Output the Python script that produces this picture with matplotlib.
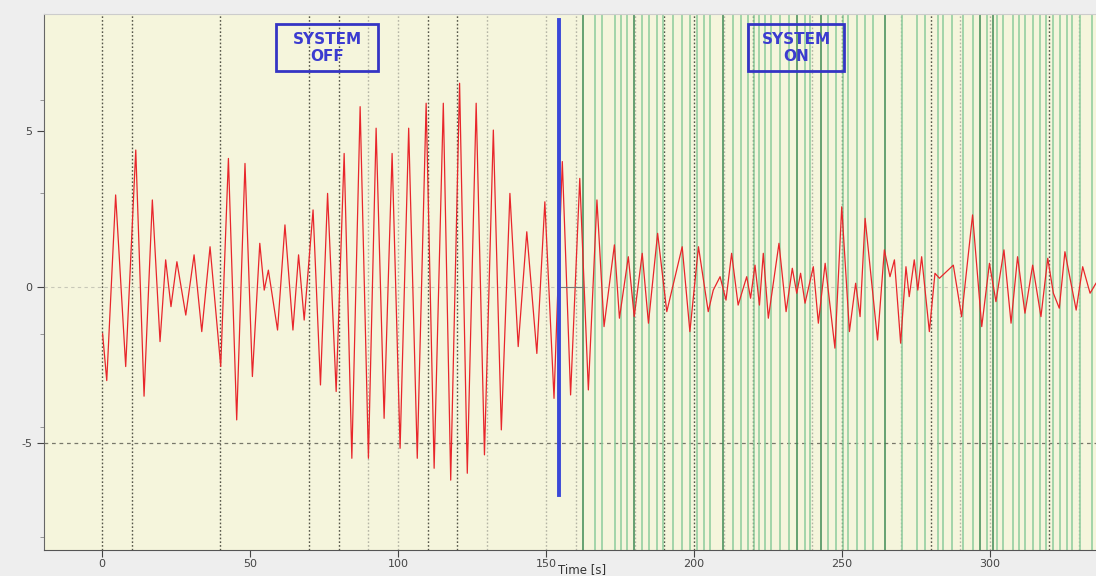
import matplotlib.pyplot as plt
import numpy as np

plt.rcParams['axes.unicode_minus'] = False

# signal extrema (time [s], amplitude)
sig_t = [0.2, 1.6, 4.6, 8.0, 11.4, 14.2, 17.0, 19.6, 21.5, 23.3, 25.3, 28.3, 31.1, 33.7,
         36.5, 40.1, 42.7, 45.5, 48.3, 50.8, 53.3, 54.8, 56.2, 59.3, 61.8, 64.5, 66.4,
         68.3, 71.3, 73.8, 76.2, 79.1, 81.8, 84.4, 87.2, 90.0, 92.6, 95.3, 98.0, 100.7,
         103.6, 106.5, 109.5, 112.2, 115.3, 117.8, 120.8, 123.4, 126.4, 129.2, 132.2,
         134.9, 137.8, 140.6, 143.5, 146.9, 149.6, 152.7, 155.5, 158.3, 161.4, 164.3,
         167.2, 169.6, 173.1, 174.8, 177.8, 179.8, 182.5, 184.6, 187.7, 190.8, 196.0,
         198.6, 201.5, 204.8, 206.5, 208.8, 210.8, 212.7, 214.9, 217.8, 219.1, 220.6,
         222.1, 223.4, 225.1, 228.7, 231.1, 233.2, 234.7, 236.0, 237.5, 240.3, 242.0,
         244.3, 247.6, 249.9, 252.5, 254.6, 256.1, 257.8, 262.0, 264.3, 266.2, 267.7,
         269.8, 271.6, 272.7, 274.4, 275.6, 276.9, 279.5, 281.4, 282.9, 287.6, 290.4,
         294.1, 297.2, 299.8, 302.0, 304.7, 307.1, 309.3, 311.8, 314.4, 317.2, 319.5,
         321.4, 323.4, 325.3, 329.1, 331.3, 333.8, 335.8]
sig_v = [-1.5, -3.0, 2.95, -2.55, 4.39, -3.5, 2.79, -1.75, 0.87, -0.63, 0.81, -0.9, 1.03, -1.43,
         1.29, -2.55, 4.12, -4.26, 3.96, -2.87, 1.4, -0.1, 0.54, -1.38, 1.99, -1.38, 1.03,
         -1.06, 2.47, -3.14, 3.0, -3.35, 4.28, -5.49, 5.78, -5.49, 5.09, -4.21, 4.28, -5.17,
         5.09, -5.49, 5.89, -5.81, 5.89, -6.19, 6.53, -5.97, 5.89, -5.38, 5.03,
         -4.58, 3.0, -1.91, 1.77, -2.13, 2.73, -3.57, 4.02, -3.46, 3.48, -3.3,
         2.79, -1.27, 1.35, -1.0, 0.97, -0.95, 1.08, -1.16, 1.72, -0.79, 1.29,
         -1.43, 1.29, -0.79, -0.1, 0.33, -0.42, 1.08, -0.58, 0.33, -0.36, 0.7,
         -0.58, 1.08, -1.0, 1.4, -0.79, 0.6, -0.2, 0.44, -0.52, 0.65, -1.16,
         0.76, -1.96, 2.57, -1.43, 0.12, -0.95, 2.2, -1.7, 1.19, 0.33, 0.87,
         -1.8, 0.65, -0.31, 0.87, -0.1, 0.97, -1.43, 0.44, 0.28, 0.7, -0.95,
         2.31, -1.27, 0.76, -0.47, 1.19, -1.16, 0.97, -0.84, 0.7, -0.95, 0.92,
         -0.2, -0.68, 1.13, -0.74, 0.65, -0.2, 0.12]

# event markers after the system is switched on
green_t = [162.5, 166.6, 168.9, 173.3, 175.3, 177.4, 179.7, 182.4, 184.8, 187.5, 189.5,
           192.9, 196.0, 198.6, 201.0, 203.4, 205.4, 209.8, 213.2, 215.9, 218.2, 220.3,
           222.0, 224.0, 226.0, 229.1, 232.1, 234.8, 237.5, 239.2, 242.9, 245.3, 248.0,
           250.3, 252.0, 255.1, 257.8, 260.5, 264.5, 270.3, 275.3, 278.0, 282.4, 284.1,
           287.2, 290.9, 294.3, 296.6, 299.0, 301.0, 302.4, 304.4, 307.8, 309.8, 311.8,
           314.5, 316.9, 318.9, 321.3, 323.6, 326.0, 327.7, 330.4, 334.5]
green_dark = [162.5, 179.7, 209.8, 234.8, 242.9, 264.5, 296.6, 301.0]

grid_dark = [0, 10, 40, 70, 80, 110, 120, 190, 200, 220, 250, 280, 320]
grid_light = [90, 100, 130, 150, 160, 180, 210, 240, 270, 290, 300, 330]

switch_t = 154.4

fig = plt.figure(figsize=(10.96, 5.76), dpi=100, facecolor='#eeeeee')
ax = fig.add_axes([44/1096, 26/576, 1 - 44/1096, (550-14)/576])
ax.set_facecolor('#f5f5dc')
ax.set_xlim(-19.6, 335.8)
ax.set_ylim(-8.43, 8.75)

for t in grid_dark:
    ax.axvline(t, color='#555548', ls=(0, (1.2, 1.5)), lw=1.0, zorder=1)
for t in grid_light:
    ax.axvline(t, color='#b5b5a5', ls=(0, (1.2, 1.5)), lw=1.0, zorder=1)
ax.axhline(0, color='#c8c8b8', ls=(0, (3, 3)), lw=0.8, zorder=1)
ax.axhline(-5, color='#77776a', ls=(0, (3, 3)), lw=0.9, zorder=1)

for t in green_t:
    c = '#3f8a55' if t in green_dark else '#8ccc9c'
    ax.axvline(t, color=c, lw=1.1, zorder=2)

ax.plot(sig_t, sig_v, color='#e8262b', lw=0.9, zorder=3)
ax.plot([switch_t, 162.5], [0, 0], color='#777777', lw=0.8, zorder=3)
ax.plot([switch_t, switch_t], [8.56, -6.67], color='#3a48d8', lw=2.8, zorder=4)

for x0, x1, txt in [(276, 378, 'SYSTEM\nOFF'), (748, 844, 'SYSTEM\nON')]:
    t0 = (x0 - 102) / 2.96
    t1 = (x1 - 102) / 2.96
    ax.add_patch(plt.Rectangle((t0, (287-71)/31.2), t1 - t0, (71-24)/31.2,
                               fill=False, ec='#3434c4', lw=2.0, zorder=5))
    ax.text((t0 + t1) / 2, (287-48)/31.2, txt, ha='center', va='center',
            color='#3b3bd0', fontsize=11, fontweight='bold', linespacing=1.1, zorder=5)

ax.set_xticks([0, 50, 100, 150, 200, 250, 300])
ax.set_yticks([-5, 0, 5])
ax.set_yticks([6, 3, -1.5, -4.5, -8], minor=True)
ax.tick_params(axis='both', labelsize=8, colors='#444444', length=5, width=0.8)
ax.tick_params(axis='x', pad=1.5)
ax.tick_params(axis='y', which='minor', length=3, color='#888888')
ax.set_xlabel('Time [s]', fontsize=8.5, color='#333333')
ax.xaxis.set_label_coords((582-44)/(1096-44), -0.024)

ax.spines['right'].set_visible(False)
ax.spines['top'].set_color('#cccccc')
ax.spines['left'].set_color('#666666')
ax.spines['bottom'].set_color('#555555')

plt.savefig('out.png', dpi=100, facecolor=fig.get_facecolor())
